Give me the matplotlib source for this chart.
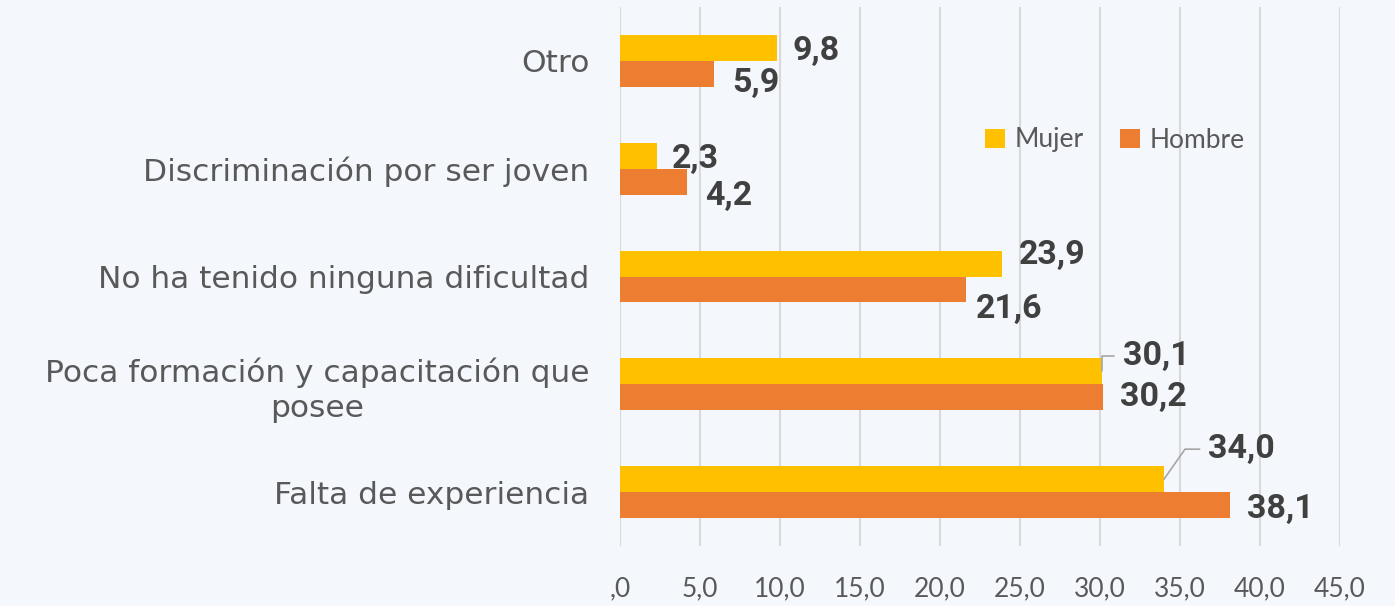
import matplotlib
matplotlib.use("Agg")
import matplotlib.pyplot as plt
import numpy as np

# Datos
categorias = ["Otro", "Discriminación por ser joven", "No ha tenido ninguna dificultad",
              "Poca formación y capacitación que\nposee", "Falta de experiencia"]
mujer = [9.8, 2.3, 23.9, 30.1, 34.0]
hombre = [5.9, 4.2, 21.6, 30.2, 38.1]
ticks_x = [0, 5, 10, 15, 20, 25, 30, 35, 40, 45]
etiquetas_x = [",0", "5,0", "10,0", "15,0", "20,0", "25,0", "30,0", "35,0", "40,0", "45,0"]

# desplazamientos (pixeles) de las etiquetas de datos, como en el original
desp_mujer = [(16, -3), (15, -3), (16, 9), (21, 15), (44, 30)]
desp_hombre = [(18, -9), (18, -14), (10, -20), (17, 0), (17, -4)]
con_linea_mujer = [False, False, False, True, True]

amarillo = "#FFC000"
naranja = "#ED7D31"
gris_txt = "#595959"
gris_num = "#404040"

fig = plt.figure(figsize=(13.95, 6.06), dpi=100)
fig.patch.set_facecolor("#F4F7FC")
ax = fig.add_axes([620 / 1395, 1 - 546 / 606, 720 / 1395, 539 / 606])
ax.set_facecolor("none")

y = np.arange(len(categorias))
alto = 0.24
ax.barh(y - alto / 2, mujer, height=alto, color=amarillo, label="Mujer", zorder=3)
ax.barh(y + alto / 2, hombre, height=alto, color=naranja, label="Hombre", zorder=3)

ax.set_xlim(0, 45)
ax.set_ylim(len(categorias) - 0.5, -0.5)
ax.set_xticks(ticks_x)
ax.set_xticklabels(etiquetas_x, fontsize=19, color=gris_txt, family="Lato")
ax.set_yticks(y)
ax.set_yticklabels(categorias, fontsize=22.5, color=gris_txt, family="DejaVu Sans",
                   multialignment="center", linespacing=1.25)
ax.tick_params(axis="both", length=0)
ax.tick_params(axis="x", pad=22)
ax.tick_params(axis="y", pad=22)
ax.grid(axis="x", color="#D9D9D9", linewidth=1.5, zorder=0)
for s in ax.spines.values():
    s.set_visible(False)

# etiquetas de valores
for i in range(len(categorias)):
    dx, dy = desp_mujer[i]
    texto = f"{mujer[i]:.1f}".replace(".", ",")
    props = None
    if con_linea_mujer[i]:
        ang = 90 if i == 3 else 55
        props = dict(arrowstyle="-", color="#A6A6A6", lw=1.2, shrinkA=4, shrinkB=0,
                     connectionstyle=f"angle,angleA=0,angleB={ang},rad=0")
    ax.annotate(texto, xy=(mujer[i], y[i] - alto / 2), xytext=(dx, dy),
                textcoords="offset pixels", ha="left", va="center",
                fontsize=24.5, fontweight="bold", color=gris_num, family="Roboto",
                arrowprops=props, zorder=5)
    dx, dy = desp_hombre[i]
    texto = f"{hombre[i]:.1f}".replace(".", ",")
    ax.annotate(texto, xy=(hombre[i], y[i] + alto / 2), xytext=(dx, dy),
                textcoords="offset pixels", ha="left", va="center",
                fontsize=24.5, fontweight="bold", color=gris_num, family="Roboto", zorder=5)

leg = ax.legend(loc="center", bbox_to_anchor=(1115 / 1395, 1 - 140 / 606),
                bbox_transform=fig.transFigure, ncol=2, frameon=False,
                prop={"family": "Lato", "size": 19}, handlelength=0.75, handleheight=0.75,
                handletextpad=0.35, columnspacing=1.4)
for t in leg.get_texts():
    t.set_color(gris_txt)

fig.savefig("out.png", dpi=100, facecolor=fig.get_facecolor())
